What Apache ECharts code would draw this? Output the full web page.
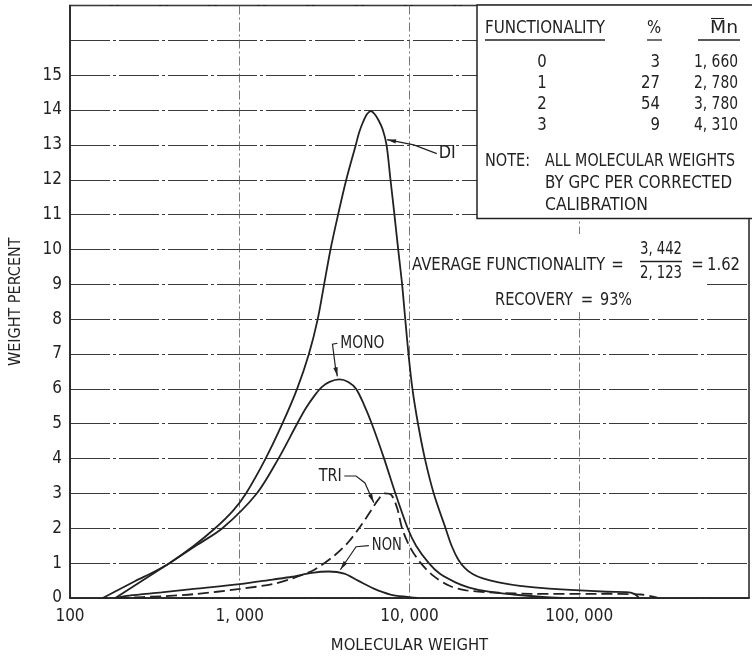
<!DOCTYPE html>
<html>
<head>
<meta charset="utf-8">
<script src="https://cdn.jsdelivr.net/npm/echarts@6/dist/echarts.min.js"></script>
<style>
  html, body { margin: 0; padding: 0; background: #fff; }
  #chart { width: 752px; height: 659px; }
</style>
</head>
<body>
<div id="chart"></div>
<script>
// Molecular weight distribution by functionality (GPC, corrected calibration)

// Tick labels
const xTickLabels = { 100: '100', 1000: '1, 000', 10000: '10, 000', 100000: '100, 000' };
const yTickMax = 15;

// DI (difunctional)
const diWeight  = [156, 241, 315, 385, 537, 716, 911, 1088, 1420, 1782, 2177, 2555, 2880, 3141, 3425, 3796, 4241, 4826, 5043, 5318, 5610, 5918, 6243, 6584, 6946, 7324, 7727, 8151, 8578, 9045, 9439, 9863, 10404, 11222, 12321, 13895, 16310, 17700, 19390, 21290, 23690, 27060, 33500, 44700, 66400, 145250, 189700, 210960, 225540];
const diPercent = [0, 0.48, 0.76, 1.0, 1.5, 2.0, 2.5, 3.0, 4.0, 5.0, 6.0, 7.0, 8.0, 9.0, 10.0, 11.0, 12.0, 13.0, 13.35, 13.65, 13.88, 13.97, 13.88, 13.7, 13.45, 13.0, 12.0, 11.0, 10.0, 9.0, 8.0, 7.0, 6.0, 5.0, 4.0, 3.0, 2.0, 1.5, 1.1, 0.85, 0.68, 0.56, 0.45, 0.35, 0.27, 0.18, 0.17, 0.12, 0];

// MONO (monofunctional)
const monoWeight  = [185, 385, 551, 790, 1260, 1690, 2177, 2455, 2750, 3040, 3381, 3863, 4355, 4844, 5390, 5998, 7086, 8260, 9757, 10930, 13000, 15050, 18635, 22459, 29320, 40920, 61060, 79700];
const monoPercent = [0, 1.0, 1.5, 2.0, 3.0, 4.0, 5.0, 5.45, 5.8, 6.05, 6.2, 6.27, 6.2, 6.0, 5.55, 5.0, 4.0, 3.0, 2.0, 1.5, 1.0, 0.7, 0.45, 0.3, 0.18, 0.1, 0.03, 0];

// TRI (trifunctional)
const triWeight  = [192, 346, 537, 1004, 1560, 2036, 2767, 3614, 4355, 5179, 5918, 6497, 7134, 7832, 8481, 9067, 10089, 11527, 13713, 17203, 21580, 33500, 52020, 127150, 231650, 294460];
const triPercent = [0, 0.05, 0.11, 0.26, 0.4, 0.56, 0.82, 1.22, 1.6, 2.08, 2.5, 2.8, 3.0, 2.95, 2.56, 1.98, 1.45, 1.03, 0.65, 0.35, 0.22, 0.15, 0.12, 0.12, 0.1, 0];

// NON (nonfunctional)
const nonWeight  = [185, 223, 346, 537, 1004, 1560, 2036, 2659, 3337, 4128, 4975, 6161, 7727, 9694, 11077];
const nonPercent = [0, 0.07, 0.16, 0.26, 0.4, 0.53, 0.61, 0.72, 0.76, 0.7, 0.5, 0.27, 0.1, 0.03, 0];

// Functionality summary table
const tableFunctionality = ['0', '1', '2', '3'];
const tablePercent = ['3', '27', '54', '9'];
const tableMn = ['1, 660', '2, 780', '3, 780', '4, 310'];

// Curve labels: text position and leader path in (molecular weight, weight %) coordinates
const curveLabels = [
  { text: 'DI',   width: 17, at: [14850, 12.75], path: [[14480, 12.75], [10600, 13.0], [7375, 13.15]] },
  { text: 'MONO', width: 44, at: [3914, 7.31],   path: [[3760, 7.31], [3518, 7.28], [3662, 6.62], [3761, 6.36]] },
  { text: 'TRI',  width: 23, at: [2919, 3.5],    path: [[4128, 3.5], [4845, 3.5], [5464, 3.3], [6161, 2.73]] },
  { text: 'NON',  width: 30, at: [5998, 1.5],    path: [[5764, 1.5], [4845, 1.47], [3914, 0.81]] }
];

const FONT = '"DejaVu Sans Condensed", "Liberation Sans Narrow", sans-serif';
const INK = '#222';

function pairs(xs, ys) { return xs.map((x, i) => [x, ys[i]]); }

function curve(name, xs, ys, dashed) {
  return {
    name: name,
    type: 'line',
    data: pairs(xs, ys),
    smooth: 0.3,
    showSymbol: false,
    silent: true,
    z: 3,
    lineStyle: { color: INK, width: 1.8, type: dashed ? [11, 5] : 'solid' }
  };
}

const chart = echarts.init(document.getElementById('chart'), null, { renderer: 'canvas' });

chart.setOption({
  animation: false,
  backgroundColor: '#fff',
  grid: {
    left: 64, right: -3, top: 5.5, bottom: 59.7,
    show: true, borderColor: INK, borderWidth: 1.5, backgroundColor: 'transparent'
  },
  xAxis: {
    type: 'log', logBase: 10, min: 100, max: 1000000,
    name: 'MOLECULAR WEIGHT', nameLocation: 'middle', nameGap: 39,
    nameTextStyle: { fontFamily: FONT, fontSize: 16.5, color: INK },
    axisLine: { show: true, lineStyle: { color: INK, width: 1.5 } },
    axisTick: { show: false },
    axisLabel: {
      margin: 10, fontFamily: FONT, fontSize: 17, color: INK,
      formatter: v => xTickLabels[Math.round(v)] || ''
    },
    splitLine: { show: true, lineStyle: { color: '#555', width: 0.8, type: [9, 3, 2, 3] } },
    minorTick: { show: false }
  },
  yAxis: {
    type: 'value', min: 0, max: 17, interval: 1,
    name: 'WEIGHT PERCENT', nameLocation: 'middle', nameGap: 46,
    nameTextStyle: { fontFamily: FONT, fontSize: 16, color: INK },
    axisLine: { show: true, lineStyle: { color: INK, width: 1.5 } },
    axisTick: { show: false },
    axisLabel: {
      margin: 8, fontFamily: FONT, fontSize: 17, color: INK,
      formatter: v => (v <= yTickMax ? String(v) : '')
    },
    splitLine: { show: true, lineStyle: { color: '#3a3a3a', width: 1, type: [40, 3, 3, 3] } }
  },
  series: [
    curve('DI', diWeight, diPercent, false),
    curve('MONO', monoWeight, monoPercent, false),
    curve('TRI', triWeight, triPercent, true),
    curve('NON', nonWeight, nonPercent, false)
  ]
});

// ---- annotations ----
const TEXT_FONT = '18px ' + FONT;
const measureCtx = document.createElement('canvas').getContext('2d');
measureCtx.font = TEXT_FONT;

// condensed lettering: squeeze each text to its drawn width
function txt(text, x, y, align, width) {
  const w = measureCtx.measureText(text).width || 1;
  const s = width ? width / w : 0.92;
  return {
    type: 'text', z: 20, x: x, y: y, scaleX: s,
    style: { text: text, x: 0, y: 0, align: align || 'left', verticalAlign: 'middle',
             font: TEXT_FONT, fill: INK }
  };
}
const seg = (x1, y1, x2, y2, w) => ({
  type: 'line', z: 20,
  shape: { x1: x1, y1: y1, x2: x2, y2: y2 },
  style: { stroke: INK, lineWidth: w || 1.3 }
});

const graphics = [];

// summary table box
graphics.push({ type: 'rect', z: 15, shape: { x: 477, y: 5, width: 290, height: 213.5 },
  style: { fill: '#fff', stroke: INK, lineWidth: 1.5 } });
graphics.push(txt('FUNCTIONALITY', 485, 28, 'left', 120));
graphics.push(seg(485, 40, 605, 40));
graphics.push(txt('%', 654, 28, 'center'));
graphics.push(seg(647, 40, 662, 40));
graphics.push(txt('Mn', 738, 28, 'right', 28));
graphics.push(seg(711, 18.5, 724, 18.5, 1.1));
graphics.push(seg(698, 40, 740, 40));
const rowY = [62, 83.7, 104.5, 125.5];
tableFunctionality.forEach((f, i) => {
  graphics.push(txt(f, 542, rowY[i], 'center'));
  graphics.push(txt(tablePercent[i], 660, rowY[i], 'right'));
  graphics.push(txt(tableMn[i], 738, rowY[i], 'right', 44));
});
graphics.push(txt('NOTE:', 485, 161.7, 'left', 45));
graphics.push(txt('ALL MOLECULAR WEIGHTS', 545, 161.7, 'left', 190));
graphics.push(txt('BY GPC PER CORRECTED', 545, 183.3, 'left', 187));
graphics.push(txt('CALIBRATION', 545, 205, 'left', 103));

// average functionality and recovery notes
graphics.push({ type: 'rect', z: 15, shape: { x: 411, y: 234, width: 336, height: 47 }, style: { fill: '#fff' } });
graphics.push({ type: 'rect', z: 15, shape: { x: 411, y: 281, width: 295, height: 31 }, style: { fill: '#fff' } });
graphics.push(txt('AVERAGE FUNCTIONALITY', 412, 265, 'left', 193));
graphics.push(txt('=', 617.5, 265, 'center'));
graphics.push(txt('3, 442', 661, 249, 'center', 42));
graphics.push(seg(640, 261.5, 682, 261.5));
graphics.push(txt('2, 123', 661, 273.5, 'center', 42));
graphics.push(txt('=', 697.5, 265, 'center'));
graphics.push(txt('1.62', 707, 265, 'left', 33));
graphics.push(txt('RECOVERY', 495, 300, 'left', 78));
graphics.push(txt('=', 587, 300, 'center'));
graphics.push(txt('93%', 600, 300, 'left', 32));

// curve labels with arrowed leaders
const px = p => chart.convertToPixel({ gridIndex: 0 }, p);
curveLabels.forEach(c => {
  const a = px(c.at);
  graphics.push(txt(c.text, a[0], a[1], 'left', c.width));
  const pts = c.path.map(px);
  graphics.push({ type: 'polyline', z: 20, shape: { points: pts },
    style: { stroke: INK, lineWidth: 1.2, fill: null } });
  const tip = pts[pts.length - 1], prev = pts[pts.length - 2];
  const dx = tip[0] - prev[0], dy = tip[1] - prev[1];
  const len = Math.hypot(dx, dy) || 1;
  const ux = dx / len, uy = dy / len;
  const L = 9, W = 2.2;
  const bx = tip[0] - ux * L, by = tip[1] - uy * L;
  graphics.push({ type: 'polygon', z: 20,
    shape: { points: [tip, [bx - uy * W, by + ux * W], [bx + uy * W, by - ux * W]] },
    style: { fill: INK } });
});

chart.setOption({ graphic: graphics });
</script>
</body>
</html>
